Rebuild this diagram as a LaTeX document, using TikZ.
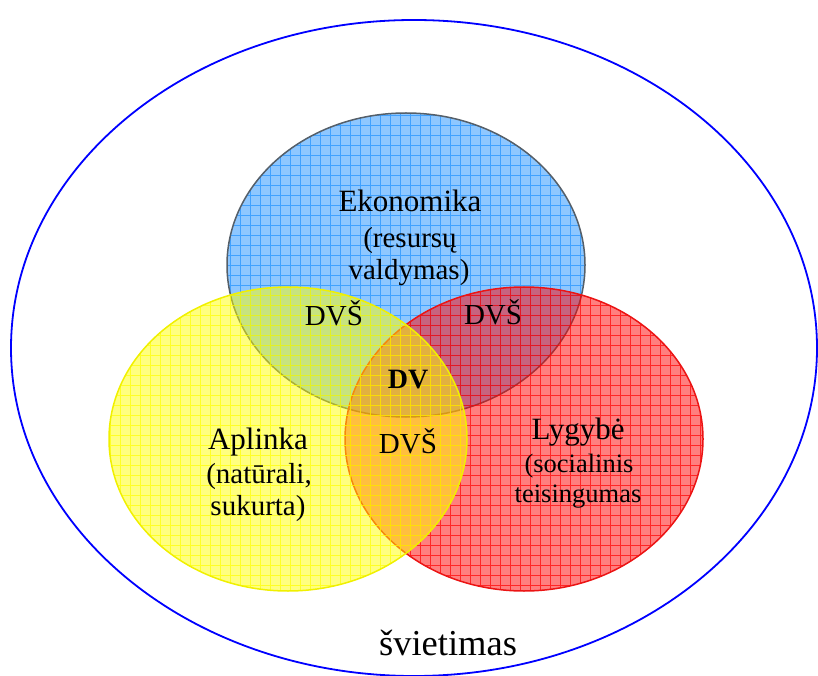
\documentclass[tikz,border=0pt]{standalone}
\usepackage{fontspec}
\setmainfont{Liberation Serif}
\usepackage{xcolor}
\usepackage{tikz}

\definecolor{ekoblue}{RGB}{30,144,255}
\definecolor{ekoedge}{RGB}{85,95,105}
\definecolor{aplyellow}{RGB}{255,255,0}
\definecolor{apledge}{RGB}{240,240,0}
\definecolor{lygred}{RGB}{255,0,0}
\definecolor{lygedge}{RGB}{235,20,20}

\begin{document}
\begin{tikzpicture}[x=1pt,y=1pt,
    lbl/.style={anchor=base,inner sep=0pt,font=\fontsize{31}{36}\selectfont},
    sub/.style={anchor=base,inner sep=0pt,font=\fontsize{29}{34}\selectfont}]
    \useasboundingbox (0,0) rectangle (818,675);
    \coordinate (svi) at (414,327);
    \coordinate (eko) at (406,410);
    \coordinate (apl) at (288,236);
    \coordinate (lyg) at (524,236);
    \draw [blue, line width=1.8pt] (svi) ellipse [x radius=403, y radius=328];
    \foreach \c/\col/\edge in {eko/ekoblue/ekoedge, lyg/lygred/lygedge, apl/aplyellow/apledge} {
      \begin{scope}
        \clip (\c) ellipse [x radius=179, y radius=152];
        \fill [\col, fill opacity=0.5] (\c) ellipse [x radius=179, y radius=152];
        \draw [\col, draw opacity=0.7, line width=0.8pt, step=10] (\c) ++(-180,-153) grid ++(360,306);
      \end{scope}
      \draw [\edge, line width=1.5pt] (\c) ellipse [x radius=179, y radius=152];
    }
    \node [lbl] (ekonomika) at (410,463) {Ekonomika};
    \node [sub] (resursu) at (410,427) {(resursų};
    \node [sub] (valdymas) at (409,395) {valdymas)};
    \node [sub] (dvs1) at (334,349) {DVŠ};
    \node [sub] (dvs2) at (493,350) {DVŠ};
    \node [sub, font=\bfseries\fontsize{28}{34}\selectfont] (dv) at (408,287) {DV};
    \node [sub] (dvs3) at (408,222) {DVŠ};
    \node [lbl] (aplinka) at (258,226) {Aplinka};
    \node [sub] (naturali) at (259,192) {(natūrali,};
    \node [sub] (sukurta) at (258,160) {sukurta)};
    \node [lbl] (lygybe) at (578,236) {Lygybė};
    \node [sub, font=\fontsize{26.5}{30}\selectfont] (socialinis) at (579,203) {(socialinis};
    \node [sub, font=\fontsize{26.5}{30}\selectfont] (teisingumas) at (578,173) {teisingumas};
    \node [lbl, font=\fontsize{36.5}{40}\selectfont] (svietimas) at (448,20) {švietimas};
\end{tikzpicture}
\end{document}
